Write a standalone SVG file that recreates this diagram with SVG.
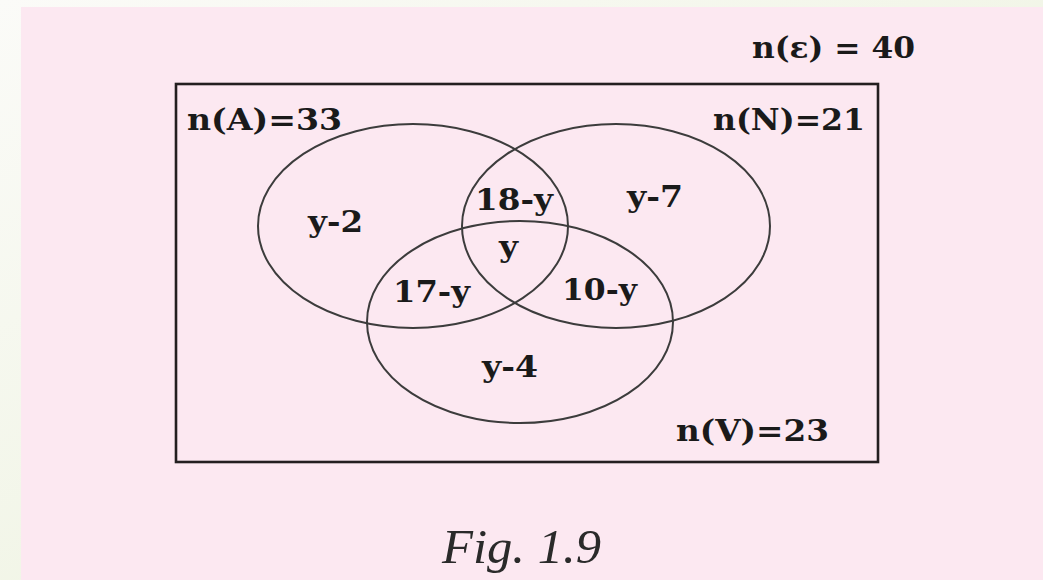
<svg xmlns="http://www.w3.org/2000/svg" width="1043" height="580" viewBox="0 0 1043 580">
  <defs>
    <linearGradient id="bg" x1="0" y1="0" x2="1" y2="1">
      <stop offset="0" stop-color="#fbfbf8"/>
      <stop offset="1" stop-color="#e9f0d8"/>
    </linearGradient>
    <style>
      .lbl { font-family: "DejaVu Serif", "Liberation Serif", serif; font-weight: bold; font-size: 30px; fill: #1a1a1a; }
      .set { fill: none; stroke: #3c3c3c; stroke-width: 2; }
      .cap { font-family: "Liberation Serif", "DejaVu Serif", serif; font-style: italic; font-size: 48px; fill: #2a2a2a; }
    </style>
  </defs>
  <rect x="0" y="0" width="1043" height="580" fill="url(#bg)"/>
  <rect x="21" y="7" width="1022" height="573" fill="#fce8f1"/>

  <g id="universe">
    <rect x="176" y="84" width="702" height="378" fill="none" stroke="#231f20" stroke-width="2.6"/>
    <text class="lbl" x="752" y="58" textLength="163" lengthAdjust="spacingAndGlyphs">n(ε) = 40</text>
  </g>

  <g id="connectors"></g>

  <g id="setA">
    <ellipse class="set" cx="413" cy="226" rx="155" ry="102"/>
    <text class="lbl" x="187" y="130" textLength="155" lengthAdjust="spacingAndGlyphs">n(A)=33</text>
  </g>
  <g id="setN">
    <ellipse class="set" cx="616" cy="226" rx="154" ry="102"/>
    <text class="lbl" x="713" y="130" textLength="152" lengthAdjust="spacingAndGlyphs">n(N)=21</text>
  </g>
  <g id="setV">
    <ellipse class="set" cx="520" cy="322" rx="153" ry="101"/>
    <text class="lbl" x="676" y="441" textLength="153" lengthAdjust="spacingAndGlyphs">n(V)=23</text>
  </g>

  <g id="regions">
    <text class="lbl" x="308" y="232" textLength="55" lengthAdjust="spacingAndGlyphs">y-2</text>
    <text class="lbl" x="475" y="210" textLength="78" lengthAdjust="spacingAndGlyphs">18-y</text>
    <text class="lbl" x="627" y="207" textLength="56" lengthAdjust="spacingAndGlyphs">y-7</text>
    <text class="lbl" x="499" y="257" textLength="19" lengthAdjust="spacingAndGlyphs">y</text>
    <text class="lbl" x="393" y="302" textLength="77" lengthAdjust="spacingAndGlyphs">17-y</text>
    <text class="lbl" x="562" y="300" textLength="75" lengthAdjust="spacingAndGlyphs">10-y</text>
    <text class="lbl" x="482" y="377" textLength="56" lengthAdjust="spacingAndGlyphs">y-4</text>
  </g>

  <g id="caption">
    <text class="cap" x="442" y="563" textLength="159" lengthAdjust="spacingAndGlyphs">Fig. 1.9</text>
  </g>
</svg>
